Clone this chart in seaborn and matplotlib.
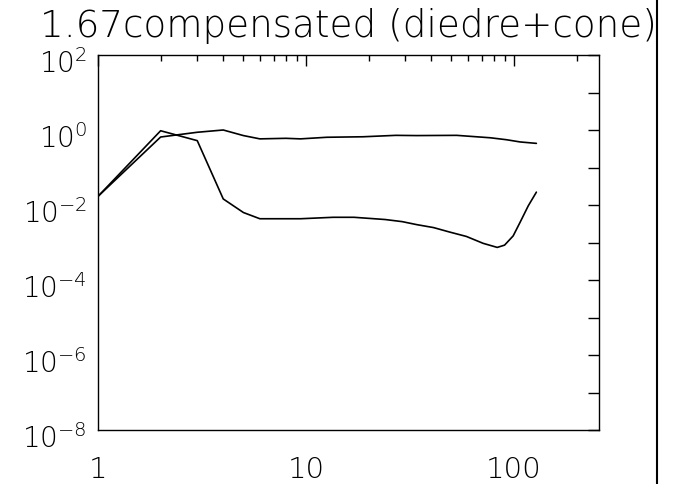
import numpy as np
import pandas as pd
import matplotlib
matplotlib.use("Agg")
import matplotlib.pyplot as plt
import matplotlib.transforms as mtransforms
import seaborn as sns
from matplotlib.ticker import FixedLocator, FuncFormatter, NullLocator
from matplotlib.lines import Line2D

# ---- data ----
title_text = "1.67compensated (diedre+cone)"

x_diedre = [1, 2, 3, 4, 5, 6, 8, 9.4, 13.5, 17, 24, 29, 34, 41, 49, 59, 71, 83, 90, 99, 107, 117, 128]
y_diedre = [0.017, 0.955, 0.52, 0.0145, 0.0063, 0.0043, 0.0043, 0.0043, 0.0047, 0.0047,
            0.0041, 0.0036, 0.0030, 0.0025, 0.0019, 0.00145, 0.00095, 0.00074, 0.00085,
            0.0015, 0.0035, 0.0095, 0.022]

x_cone = [1, 2, 3, 4, 5, 6, 8, 9.4, 12.6, 18.8, 27, 34, 53, 77, 92, 107, 128]
y_cone = [0.017, 0.65, 0.87, 1.0, 0.71, 0.58, 0.60, 0.58, 0.64, 0.66, 0.72, 0.71, 0.72,
          0.62, 0.55, 0.48, 0.44]

x_major = [1, 10, 100]
x_labels = ["1", "10", "100"]
y_exponents = list(range(-8, 3))

# ---- build table ----
df = pd.concat([
    pd.DataFrame({"x": x_diedre, "y": y_diedre, "series": "diedre"}),
    pd.DataFrame({"x": x_cone, "y": y_cone, "series": "cone"}),
], ignore_index=True)

sns.set_style("white")
plt.rcParams["font.family"] = ["DejaVu Sans"]
plt.rcParams["mathtext.fontset"] = "custom"
plt.rcParams["mathtext.rm"] = "DejaVu Sans:weight=light"
plt.rcParams["mathtext.it"] = "DejaVu Sans:weight=light"
plt.rcParams["mathtext.bf"] = "DejaVu Sans:weight=light"
plt.rcParams["mathtext.default"] = "rm"

W, H = 673, 485
fig = plt.figure(figsize=(W / 100, H / 100), dpi=100)
ax = fig.add_axes([98 / W, (H - 431) / H, (599 - 98) / W, (431 - 56) / H])

sns.lineplot(data=df, x="x", y="y", hue="series", palette=["black", "black"],
             linewidth=1.2, legend=False, ax=ax, sort=False, estimator=None)

ax.set_xscale("log")
ax.set_yscale("log")
ax.set_xlim(1, 256)
ax.set_ylim(1e-8, 1e2)
ax.set_xlabel("")
ax.set_ylabel("")

# x ticks
ax.xaxis.set_major_locator(FixedLocator(x_major))
ax.xaxis.set_major_formatter(FuncFormatter(
    lambda v, p: x_labels[x_major.index(int(round(v)))] if int(round(v)) in x_major else ""))
minor = [m * d for d in (1, 10, 100) for m in range(2, 10) if m * d < 256]
ax.xaxis.set_minor_locator(FixedLocator(minor))

# y ticks
ax.yaxis.set_major_locator(FixedLocator([10.0 ** e for e in y_exponents]))
def yfmt(v, p):
    e = int(round(np.log10(v)))
    return r"$10^{%d}$" % e if e % 2 == 0 else ""
ax.yaxis.set_major_formatter(FuncFormatter(yfmt))
ax.yaxis.set_minor_locator(NullLocator())

ax.tick_params(which="both", direction="in", top=True, right=True, color="black",
               width=1.0, labelcolor="black")
ax.tick_params(which="major", length=8)
ax.tick_params(which="minor", length=4)
ax.tick_params(axis="x", which="major", labelsize=21, pad=18)
ax.tick_params(axis="y", which="major", labelsize=20, pad=8)
for lab in ax.get_xticklabels() + ax.get_yticklabels():
    lab.set_fontweight("light")
offset = mtransforms.ScaledTranslation(0, -5 / 100, fig.dpi_scale_trans)
for lab in ax.get_yticklabels():
    lab.set_transform(lab.get_transform() + offset)

for s in ax.spines.values():
    s.set_color("black")
    s.set_linewidth(1.0)
    s.set_visible(True)

fig.text(40 / W, (H - 37) / H, title_text, fontsize=26.8, ha="left", va="baseline",
         color="black", fontweight="light")

fig.add_artist(Line2D([657 / W, 657 / W], [0, 1], transform=fig.transFigure,
                      color="black", linewidth=1.5))

fig.savefig("out.png", dpi=100, facecolor="white")
